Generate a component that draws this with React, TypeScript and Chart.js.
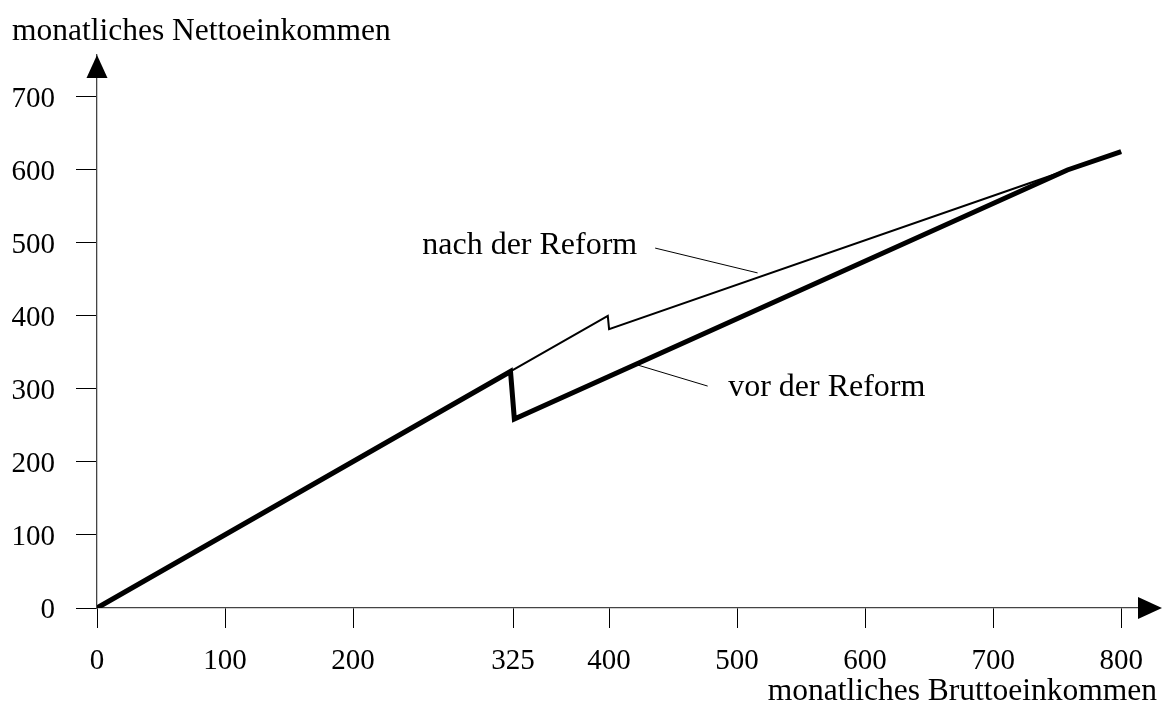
import React, { useEffect, useRef } from "react";
import { Chart, registerables } from "chart.js";

Chart.register(...registerables);

// ---- data ----
const xTickValues = [0, 100, 200, 325, 400, 500, 600, 700, 800];
const yTickValues = [0, 100, 200, 300, 400, 500, 600, 700];

const bruttoVor = [0, 323, 326, 758, 800];
const nettoVor = [0, 324, 259, 600, 625];

const bruttoNach = [0, 323, 399, 400, 758, 800];
const nettoNach = [0, 324, 400, 382, 600, 625];

const xAxisTitle = "monatliches Bruttoeinkommen";
const yAxisTitle = "monatliches Nettoeinkommen";

const labelTexts = ["nach der Reform", "vor der Reform"];
const labelAnchorX = [422, 493];
const labelAnchorY = [496, 302];
const labelAlign: CanvasTextAlign[] = ["right", "left"];
const leaderFromX = [436, 422];
const leaderFromY = [493, 333];
const leaderToX = [516, 477];
const leaderToY = [459, 304];

const X_MAX = 828;
const Y_MAX = 757.5;

const FONT = "'Liberation Serif', 'Times New Roman', Times, serif";

const overlayPlugin = {
  id: "overlay",
  afterDraw(chart: any) {
    const { ctx, chartArea, scales } = chart;
    const xs = scales.x;
    const ys = scales.y;
    const ox = xs.getPixelForValue(0);
    const oy = ys.getPixelForValue(0);
    ctx.save();
    ctx.fillStyle = "#000";
    // y-axis arrow
    ctx.beginPath();
    ctx.moveTo(ox, chartArea.top);
    ctx.lineTo(ox - 10.5, chartArea.top + 23);
    ctx.lineTo(ox + 10.5, chartArea.top + 23);
    ctx.closePath();
    ctx.fill();
    // x-axis arrow
    const tip = chartArea.right + 5;
    ctx.strokeStyle = "#444";
    ctx.lineWidth = 1.3;
    ctx.beginPath();
    ctx.moveTo(chartArea.right, oy);
    ctx.lineTo(tip - 20, oy);
    ctx.stroke();
    ctx.beginPath();
    ctx.moveTo(tip, oy);
    ctx.lineTo(tip - 24, oy - 11);
    ctx.lineTo(tip - 24, oy + 11);
    ctx.closePath();
    ctx.fill();
    // leader lines
    ctx.strokeStyle = "#000";
    ctx.lineWidth = 1;
    for (let i = 0; i < labelTexts.length; i++) {
      ctx.beginPath();
      ctx.moveTo(xs.getPixelForValue(leaderFromX[i]), ys.getPixelForValue(leaderFromY[i]));
      ctx.lineTo(xs.getPixelForValue(leaderToX[i]), ys.getPixelForValue(leaderToY[i]));
      ctx.stroke();
    }
    // labels
    ctx.font = `32px ${FONT}`;
    ctx.textBaseline = "middle";
    for (let i = 0; i < labelTexts.length; i++) {
      ctx.textAlign = labelAlign[i];
      ctx.fillText(
        labelTexts[i],
        xs.getPixelForValue(labelAnchorX[i]),
        ys.getPixelForValue(labelAnchorY[i])
      );
    }
    ctx.restore();
  },
};

export default function App() {
  const canvasRef = useRef<HTMLCanvasElement | null>(null);

  useEffect(() => {
    if (!canvasRef.current) return;
    const chart = new Chart(canvasRef.current, {
      type: "scatter",
      data: {
        datasets: [
          {
            label: "nach der Reform",
            data: bruttoNach.map((x, i) => ({ x, y: nettoNach[i] })),
            showLine: true,
            borderColor: "#000",
            backgroundColor: "#000",
            borderWidth: 2,
            pointRadius: 0,
            borderJoinStyle: "miter",
            tension: 0,
          },
          {
            label: "vor der Reform",
            data: bruttoVor.map((x, i) => ({ x, y: nettoVor[i] })),
            showLine: true,
            borderColor: "#000",
            backgroundColor: "#000",
            borderWidth: 5,
            pointRadius: 0,
            borderJoinStyle: "miter",
            tension: 0,
          },
        ],
      },
      options: {
        animation: false,
        responsive: false,
        devicePixelRatio: 1,
        layout: { padding: { left: 12, right: 8, top: 0, bottom: 0 } },
        plugins: {
          legend: { display: false },
          tooltip: { enabled: false },
          title: {
            display: true,
            text: yAxisTitle,
            align: "start",
            color: "#000",
            font: { family: FONT, size: 31.5, weight: "normal" },
            padding: { top: 13, bottom: 4.2 },
          },
          subtitle: {
            display: true,
            text: xAxisTitle,
            position: "bottom",
            align: "end",
            color: "#000",
            font: { family: FONT, size: 31.5, weight: "normal" },
            padding: { top: 3, bottom: 9 },
          },
        },
        scales: {
          x: {
            type: "linear",
            min: 0,
            max: X_MAX,
            afterBuildTicks: (s: any) => {
              s.ticks = xTickValues.map((v) => ({ value: v }));
            },
            afterFit: (s: any) => {
              s.height = 62.2;
            },
            ticks: {
              color: "#000",
              font: { family: FONT, size: 29 },
              padding: 16,
              maxRotation: 0,
              autoSkip: false,
            },
            grid: {
              drawOnChartArea: false,
              drawTicks: true,
              tickLength: 20,
              color: "#000",
              lineWidth: 1,
            },
            border: { display: true, color: "#444", width: 1.3 },
          },
          y: {
            type: "linear",
            min: 0,
            max: Y_MAX,
            afterBuildTicks: (s: any) => {
              s.ticks = yTickValues.map((v) => ({ value: v }));
            },
            afterFit: (s: any) => {
              s.width = 85;
            },
            ticks: {
              color: "#000",
              font: { family: FONT, size: 29 },
              padding: 21,
              labelOffset: 2,
              autoSkip: false,
            },
            grid: {
              drawOnChartArea: false,
              drawTicks: true,
              tickLength: 21,
              color: "#000",
              lineWidth: 1,
            },
            border: { display: true, color: "#444", width: 1.3 },
          },
        },
      },
      plugins: [overlayPlugin],
    } as any);
    return () => chart.destroy();
  }, []);

  return (
    <div style={{ position: "absolute", left: 0, top: 0, width: 1165, height: 720, background: "#fff" }}>
      <canvas ref={canvasRef} width={1165} height={720} style={{ display: "block" }} />
    </div>
  );
}
